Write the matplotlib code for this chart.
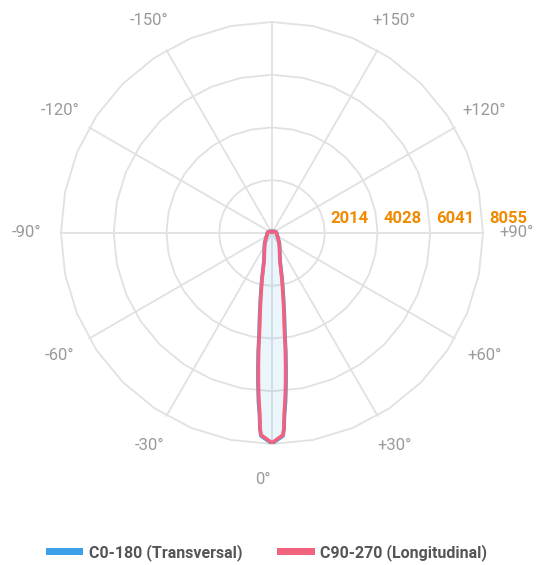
import numpy as np
import matplotlib
matplotlib.use("Agg")
import matplotlib.pyplot as plt
from matplotlib.lines import Line2D

plt.rcParams['font.family'] = ['Roboto', 'DejaVu Sans']

# half profile (0 = down, 180 = up), mirrored for the other side
angles = [0, 3.1, 3.5, 3.9, 4.6, 5.3, 6.0, 6.65, 7.3, 8.5, 10, 12, 14, 16.1,
          20, 25, 35.8, 50, 65, 90, 105, 120, 135, 150, 165, 180]
c0_180 = [8040, 7760, 7530, 7010, 6460, 5810, 5140, 4550, 3890, 3220, 2550,
          1920, 1440, 1120, 885, 700, 485, 305, 222, 178, 158, 119, 79, 57,
          54, 54]
c90_270 = [8016, 7722, 7458, 6886, 6298, 5634, 4962, 4382, 3733, 3088, 2443,
           1836, 1374, 1073, 851, 676, 470, 295, 214, 172, 153, 115, 76, 55,
           52, 52]

ring_values = [2014, 4028, 6041, 8055]
angle_ticks = [0, 30, 60, 90, 120, 150, -150, -120, -90, -60, -30]
series_names = ["C0-180 (Transversal)", "C90-270 (Longitudinal)"]

blue = "#3a9fe6"
pink = "#f2617d"
grid_c = "#e1e1e1"


def full_curve(a, v):
    a = np.array(a, dtype=float)
    v = np.array(v, dtype=float)
    th = np.concatenate([-a[::-1], a[1:]])
    r = np.concatenate([v[::-1], v[1:]])
    return np.radians(th), r


fig = plt.figure(figsize=(5.36, 5.65), dpi=100)
ax = fig.add_axes([0.1138, 0.2142, 0.7873, 0.7469], projection='polar')
ax.set_theta_zero_location('S')
ax.set_theta_direction(1)
ax.set_ylim(0, ring_values[-1])
ax.grid(False)
ax.spines['polar'].set_visible(False)
ax.set_xticks([])
ax.set_yticks([])
ax.patch.set_alpha(0)

# polygon rings (32 sides) and radial lines
poly_th = np.radians(np.arange(0, 361, 11.25))
for rv in ring_values:
    ax.plot(poly_th, np.full(len(poly_th), rv), color=grid_c, lw=1.3, zorder=1, clip_on=False)
for a in range(0, 360, 30):
    ax.plot([np.radians(a)] * 2, [0, ring_values[-1]], color=grid_c, lw=1.3, zorder=1, clip_on=False)

th_b, r_b = full_curve(angles, c0_180)
th_p, r_p = full_curve(angles, c90_270)
ax.fill(th_b, r_b, color=blue, alpha=0.1, zorder=2, lw=0)
ax.plot(th_b, r_b, color=blue, lw=2.6, zorder=3)
ax.plot(th_p, r_p, color=pink, lw=2.6, zorder=4)

# angle labels
lab_r = ring_values[-1] * 245 / 211
for a in angle_ticks:
    txt = f"+{a}°" if a > 0 else f"{a}°"
    off = (-9, -2) if a == 0 else (0, 0)
    ax.annotate(txt, xy=(np.radians(a), lab_r), xytext=off,
                textcoords='offset pixels', ha='center', va='center',
                fontsize=12, color='#9a9a9a', annotation_clip=False)

# ring value labels
for rv in ring_values:
    ax.annotate(str(rv), xy=(np.radians(90), rv), xytext=(6, 14),
                textcoords='offset pixels', ha='left', va='center',
                fontsize=12, fontweight='bold', color='#f08a00',
                annotation_clip=False)

handles = [Line2D([], [], color=blue, lw=5), Line2D([], [], color=pink, lw=5)]
fig.legend(handles, series_names, loc='lower center', bbox_to_anchor=(0.5, -0.018),
           ncol=2, frameon=False, handlelength=1.9, handletextpad=0.6,
           columnspacing=2.4, prop={'size': 11.5, 'weight': 'bold'},
           labelcolor='#555555')

fig.savefig("out.png", dpi=100)
